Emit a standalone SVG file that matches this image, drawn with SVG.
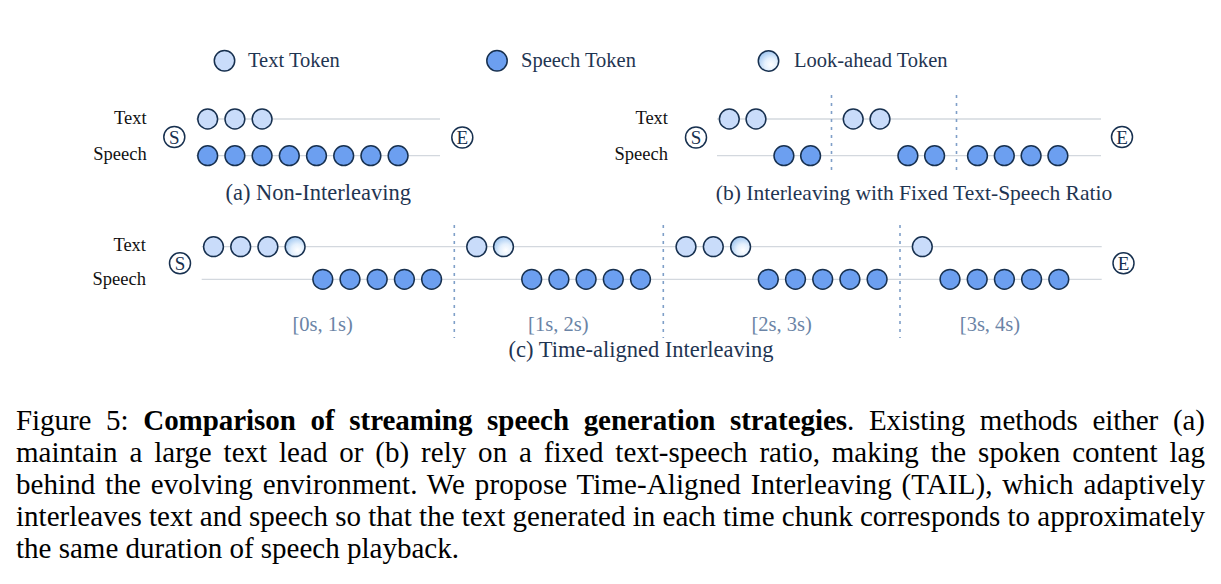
<svg xmlns="http://www.w3.org/2000/svg" xmlns:xlink="http://www.w3.org/1999/xlink" width="1221" height="584" viewBox="0 0 1221 584">
<style>
.tt{fill:#c9dcfa;stroke:#17304f;stroke-width:1.5}
.sp{fill:#6c9ff0;stroke:#17304f;stroke-width:1.5}
.la{fill:url(#lag);stroke:#17304f;stroke-width:1.5}
.rl{stroke:#d3d8de;stroke-width:1.3;fill:none}
.dl{stroke:#7f9fc8;stroke-width:1.6;stroke-dasharray:3 5;fill:none}
.lbl{font-family:"Liberation Serif","Times New Roman",serif;font-size:18.5px;fill:#111;text-anchor:end}
.leg{font-family:"Liberation Serif","Times New Roman",serif;font-size:20.5px;fill:#1f3552}
.cap{font-family:"Liberation Serif","Times New Roman",serif;font-size:22.5px;fill:#1f3552;text-anchor:middle}
.tm{font-family:"Liberation Serif","Times New Roman",serif;font-size:20.5px;fill:#6b84a6;text-anchor:middle}
.se{fill:#fff;stroke:#17304f;stroke-width:1.5}
.set{font-family:"Liberation Serif","Times New Roman",serif;font-size:19px;fill:#17304f;text-anchor:middle}
.fc{font-family:"Liberation Serif","Times New Roman",serif;font-size:29px;fill:#000}
</style>
<defs>
<radialGradient id="lag" cx="0.62" cy="0.68" r="0.7">
<stop offset="0" stop-color="#ffffff"/>
<stop offset="0.45" stop-color="#e4f0fd"/>
<stop offset="1" stop-color="#9fc6f0"/>
</radialGradient>
<circle id="t" r="9.9" class="tt"/>
<circle id="s" r="9.9" class="sp"/>
<circle id="l" r="9.9" class="la"/>
</defs>

<g id="legend">
<g id="legend-text"><circle cx="224.5" cy="60.7" r="10.2" class="tt"/><text x="248" y="67" class="leg">Text Token</text></g>
<g id="legend-speech"><circle cx="497" cy="60.7" r="10.2" class="sp"/><text x="521" y="67" class="leg">Speech Token</text></g>
<g id="legend-lookahead"><circle cx="768.5" cy="61" r="10.2" class="la"/><text x="794" y="67" class="leg">Look-ahead Token</text></g>
</g>

<g id="connectors">
<line class="rl" x1="196" y1="119" x2="440" y2="119"/>
<line class="rl" x1="196" y1="155.7" x2="440" y2="155.7"/>
<line class="rl" x1="717" y1="119" x2="1101" y2="119"/>
<line class="rl" x1="717" y1="155.7" x2="1101" y2="155.7"/>
<line class="dl" x1="831.5" y1="95" x2="831.5" y2="175"/>
<line class="dl" x1="956.5" y1="95" x2="956.5" y2="175"/>
<line class="rl" x1="201.7" y1="246.7" x2="1101.7" y2="246.7"/>
<line class="rl" x1="201.7" y1="279.3" x2="1101.7" y2="279.3"/>
<line class="dl" x1="454.3" y1="225" x2="454.3" y2="338"/>
<line class="dl" x1="663.3" y1="225" x2="663.3" y2="338"/>
<line class="dl" x1="900" y1="225" x2="900" y2="338"/>
</g>

<g id="panel-a">
<text x="146.7" y="124" class="lbl">Text</text>
<text x="146.7" y="159.5" class="lbl">Speech</text>
<g id="a-start"><circle cx="174.3" cy="137" r="10.5" class="se"/><text x="174.3" y="143.5" class="set">S</text></g>
<g id="a-end"><circle cx="462.3" cy="137.5" r="10.5" class="se"/><text x="462.3" y="144" class="set">E</text></g>
<g id="a-text">
<use href="#t" x="207.7" y="119"/><use href="#t" x="234.9" y="119"/><use href="#t" x="262.1" y="119"/>
</g>
<g id="a-speech">
<use href="#s" x="207.7" y="155.7"/><use href="#s" x="234.9" y="155.7"/><use href="#s" x="262.1" y="155.7"/><use href="#s" x="289.3" y="155.7"/>
<use href="#s" x="316.5" y="155.7"/><use href="#s" x="343.7" y="155.7"/><use href="#s" x="370.9" y="155.7"/><use href="#s" x="398.1" y="155.7"/>
</g>
<text x="318.3" y="200" class="cap">(a) Non-Interleaving</text>
</g>

<g id="panel-b">
<text x="668" y="124" class="lbl">Text</text>
<text x="668" y="159.5" class="lbl">Speech</text>
<g id="b-start"><circle cx="696" cy="137.5" r="10.5" class="se"/><text x="696" y="144" class="set">S</text></g>
<g id="b-end"><circle cx="1122" cy="137" r="10.5" class="se"/><text x="1122" y="143.5" class="set">E</text></g>
<g id="b-text">
<use href="#t" x="729.3" y="119"/><use href="#t" x="756" y="119"/>
<use href="#t" x="853.2" y="119"/><use href="#t" x="880" y="119"/>
</g>
<g id="b-speech">
<use href="#s" x="783.9" y="155.7"/><use href="#s" x="810.6" y="155.7"/>
<use href="#s" x="907.9" y="155.7"/><use href="#s" x="934.6" y="155.7"/>
<use href="#s" x="977.5" y="155.7"/><use href="#s" x="1004.3" y="155.7"/><use href="#s" x="1031.1" y="155.7"/><use href="#s" x="1057.9" y="155.7"/>
</g>
<text x="914" y="200" class="cap" style="font-size:21.5px">(b) Interleaving with Fixed Text-Speech Ratio</text>
</g>

<g id="panel-c">
<text x="146" y="251" class="lbl">Text</text>
<text x="146" y="285" class="lbl">Speech</text>
<g id="c-start"><circle cx="180" cy="263.3" r="10.5" class="se"/><text x="180" y="269.8" class="set">S</text></g>
<g id="c-end"><circle cx="1123.5" cy="263.3" r="10.5" class="se"/><text x="1123.5" y="269.8" class="set">E</text></g>
<g id="c-chunk1">
<use href="#t" x="213.5" y="246.7"/><use href="#t" x="240.7" y="246.7"/><use href="#t" x="267.9" y="246.7"/><use href="#l" x="295.1" y="246.7"/>
<use href="#s" x="322.8" y="279.3"/><use href="#s" x="350" y="279.3"/><use href="#s" x="377.2" y="279.3"/><use href="#s" x="404.4" y="279.3"/><use href="#s" x="431.6" y="279.3"/>
<text x="322.7" y="331" class="tm">[0s, 1s)</text>
</g>
<g id="c-chunk2">
<use href="#t" x="476.7" y="246.7"/><use href="#l" x="503.5" y="246.7"/>
<use href="#s" x="531.7" y="279.3"/><use href="#s" x="558.9" y="279.3"/><use href="#s" x="586.1" y="279.3"/><use href="#s" x="613.3" y="279.3"/><use href="#s" x="640.5" y="279.3"/>
<text x="558.3" y="331" class="tm">[1s, 2s)</text>
</g>
<g id="c-chunk3">
<use href="#t" x="686" y="246.7"/><use href="#t" x="713.3" y="246.7"/><use href="#l" x="740.6" y="246.7"/>
<use href="#s" x="768.3" y="279.3"/><use href="#s" x="795.5" y="279.3"/><use href="#s" x="822.7" y="279.3"/><use href="#s" x="849.9" y="279.3"/><use href="#s" x="877.1" y="279.3"/>
<text x="781.7" y="331" class="tm">[2s, 3s)</text>
</g>
<g id="c-chunk4">
<use href="#t" x="922.3" y="246.7"/>
<use href="#s" x="950" y="279.3"/><use href="#s" x="977.2" y="279.3"/><use href="#s" x="1004.4" y="279.3"/><use href="#s" x="1031.6" y="279.3"/><use href="#s" x="1058.8" y="279.3"/>
<text x="990" y="331" class="tm">[3s, 4s)</text>
</g>
<text x="641" y="357" class="cap">(c) Time-aligned Interleaving</text>
</g>

<g id="caption">
<text x="16" y="430" class="fc" word-spacing="7.5" textLength="1189" lengthAdjust="spacing">Figure 5: <tspan font-weight="bold">Comparison of streaming speech generation strategies</tspan>. Existing methods either (a)</text>
<text x="16" y="462" class="fc" word-spacing="4.6" textLength="1189" lengthAdjust="spacing">maintain a large text lead or (b) rely on a fixed text-speech ratio, making the spoken content lag</text>
<text x="16" y="494" class="fc" word-spacing="2.5" textLength="1189" lengthAdjust="spacing">behind the evolving environment. We propose Time-Aligned Interleaving (TAIL), which adaptively</text>
<text x="16" y="526" class="fc" textLength="1189" lengthAdjust="spacing">interleaves text and speech so that the text generated in each time chunk corresponds to approximately</text>
<text x="16" y="558" class="fc">the same duration of speech playback.</text>
</g>
</svg>
